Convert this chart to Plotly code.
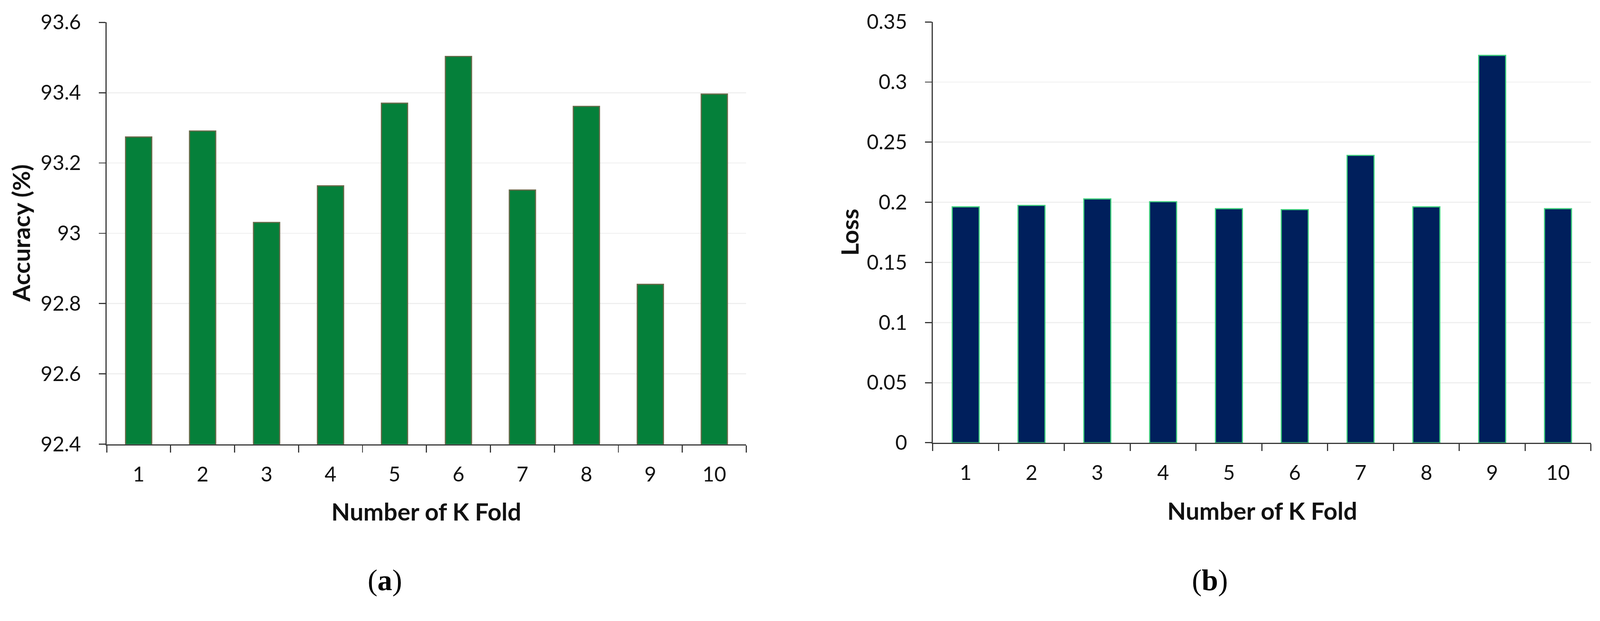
import plotly.graph_objects as go

# ---------------- data ----------------
folds = ["1", "2", "3", "4", "5", "6", "7", "8", "9", "10"]
accuracy = [93.274, 93.291, 93.031, 93.135, 93.370, 93.503, 93.123, 93.361, 92.855, 93.396]
loss = [0.1962, 0.1974, 0.2028, 0.2005, 0.1947, 0.1939, 0.2390, 0.1962, 0.3222, 0.1947]

acc_tickvals = [92.4, 92.6, 92.8, 93.0, 93.2, 93.4, 93.6]
acc_ticktext = ["92.4", "92.6", "92.8", "93", "93.2", "93.4", "93.6"]
loss_tickvals = [0, 0.05, 0.10, 0.15, 0.20, 0.25, 0.30, 0.35]
loss_ticktext = ["0", "0.05", "0.1", "0.15", "0.2", "0.25", "0.3", "0.35"]

x_title = "Number of K Fold"
acc_title = "Accuracy (%)"
loss_title = "Loss"
panel_labels = ["(<b>a</b>)", "(<b>b</b>)"]

# ---------------- geometry helpers ----------------
W, H = 4230, 1589


def px(x):
    return x / W


def py(y):
    return 1 - y / H


AXIS_COLOR = "#383838"
GRID_COLOR = "#efefef"
TICK_FONT = dict(family="Lato", size=54, color="#111111")
TITLE_FONT = dict(family="Lato", size=64, color="#111111")

fig = go.Figure()

fig.add_trace(go.Bar(
    x=folds, y=accuracy, xaxis="x", yaxis="y",
    marker=dict(color="#05803a", line=dict(color="#6a6a4a", width=3)),
    showlegend=False,
))
fig.add_trace(go.Bar(
    x=folds, y=loss, xaxis="x2", yaxis="y2",
    marker=dict(color="#001f5c", line=dict(color="#3fd07d", width=3)),
    showlegend=False,
))

xcommon = dict(
    type="category", showline=True, linecolor=AXIS_COLOR, linewidth=3,
    ticks="outside", tickson="boundaries", ticklen=19, tickwidth=3,
    tickcolor=AXIS_COLOR, tickfont=TICK_FONT, showgrid=False, zeroline=False,
    automargin=False, ticklabelstandoff=30, range=[-0.5, 9.5],
)
ycommon = dict(
    showline=True, linecolor=AXIS_COLOR, linewidth=3, ticks="outside",
    ticklen=18, tickwidth=3, tickcolor=AXIS_COLOR, tickfont=TICK_FONT,
    showgrid=True, gridcolor=GRID_COLOR, gridwidth=3, zeroline=False,
    automargin=False, tickmode="array", ticklabelstandoff=36,
)

fig.update_layout(
    width=W, height=H,
    margin=dict(l=0, r=0, t=0, b=0),
    paper_bgcolor="white", plot_bgcolor="white",
    bargap=0.59,
    xaxis=dict(domain=[px(282), px(1973)], anchor="y", **xcommon),
    yaxis=dict(domain=[py(1174), py(59)], anchor="x", range=[92.4, 93.6],
               tickvals=acc_tickvals, ticktext=acc_ticktext, **ycommon),
    xaxis2=dict(domain=[px(2466), px(4206)], anchor="y2", **xcommon),
    yaxis2=dict(domain=[py(1170), py(58)], anchor="x2", range=[0, 0.35],
                tickvals=loss_tickvals, ticktext=loss_ticktext, **ycommon),
)

annotations = [
    dict(text="<b>%s</b>" % x_title, x=px(1127), y=py(1351), font=TITLE_FONT),
    dict(text="<b>%s</b>" % x_title, x=px(3337), y=py(1349), font=TITLE_FONT),
    dict(text="<b>%s</b>" % acc_title, x=px(55), y=py(616), textangle=-90, font=TITLE_FONT),
    dict(text="<b>%s</b>" % loss_title, x=px(2245), y=py(614), textangle=-90, font=TITLE_FONT),
    dict(text=panel_labels[0], x=px(1018), y=py(1532),
         font=dict(family="Liberation Serif", size=78, color="#000000")),
    dict(text=panel_labels[1], x=px(3198), y=py(1532),
         font=dict(family="Liberation Serif", size=78, color="#000000")),
]
for a in annotations:
    a.update(xref="paper", yref="paper", showarrow=False, xanchor="center", yanchor="middle")
fig.update_layout(annotations=annotations)

# Fit the fixed-size figure into the browser viewport, keeping its proportions
post_script = """
(function(){
  var gd = document.getElementById('{plot_id}');
  document.documentElement.style.margin = '0';
  document.body.style.margin = '0';
  document.documentElement.style.overflow = 'hidden';
  document.body.style.overflow = 'hidden';
  var s = Math.min(window.innerWidth / 4230, window.innerHeight / 1589);
  gd.style.transformOrigin = '0 0';
  gd.style.transform = 'scale(' + s + ')';
})();
"""

fig.write_html("out.html", post_script=post_script, config={"displayModeBar": False})
